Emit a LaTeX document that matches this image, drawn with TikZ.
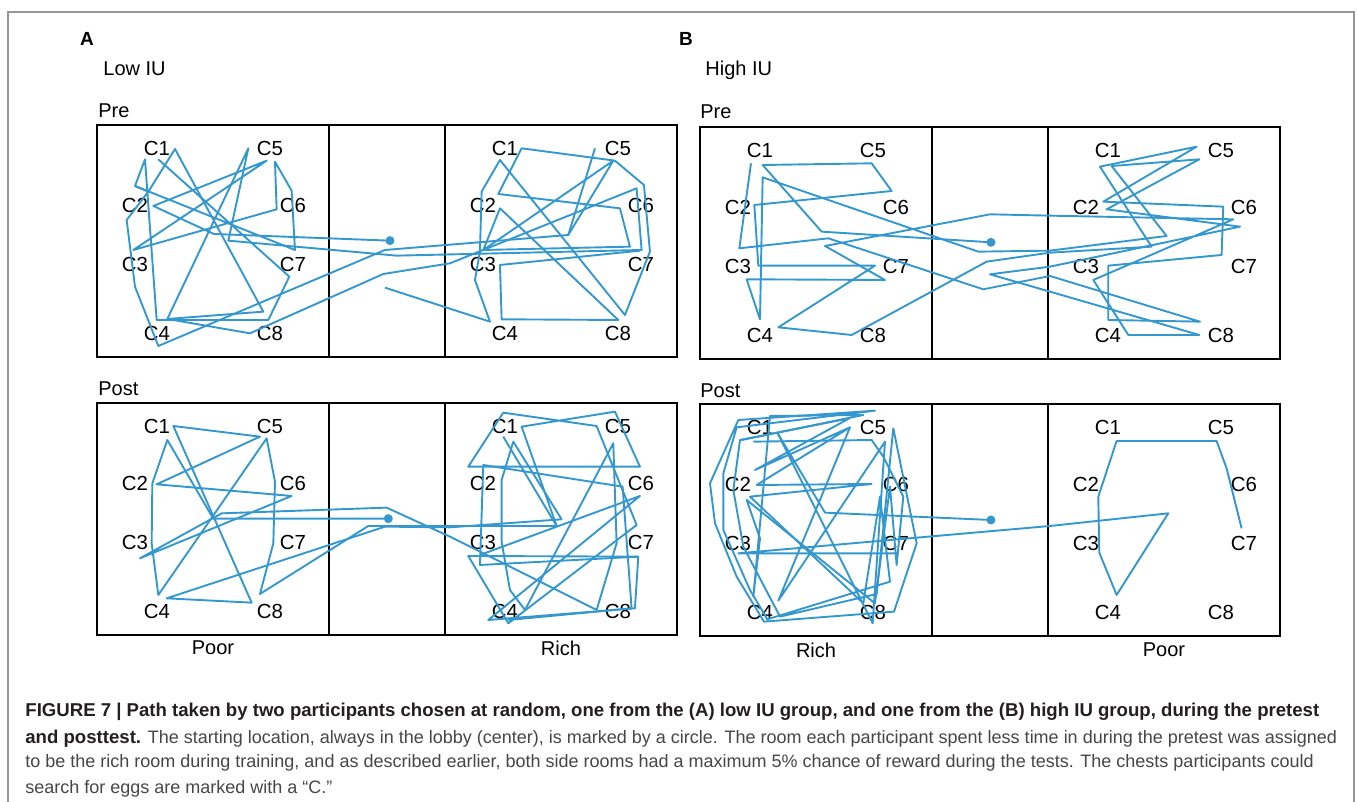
\documentclass[tikz,border=0pt]{standalone}
\usepackage{fontspec}
\setmainfont{Liberation Sans}
\usepackage{tikz}
\usetikzlibrary{positioning}

\definecolor{pathblue}{RGB}{52,152,207}
\definecolor{capgray}{RGB}{70,70,70}
\definecolor{capblack}{RGB}{35,31,32}
\definecolor{framegray}{RGB}{150,150,150}

\tikzset{room/.style={draw=black,line width=1pt},
  track/.style={draw=pathblue,line width=0.95pt,line join=round},
  start/.style={circle,fill=pathblue,inner sep=0pt,minimum size=4.5pt},
  chest/.style={font=\fontsize{10.2}{12}\selectfont,inner sep=0pt},
  grp/.style={font=\fontsize{10}{12}\selectfont,inner sep=0pt},
  panel/.style={font=\fontsize{9.5}{11}\selectfont\bfseries,inner sep=0pt},
  capb/.style={font=\fontsize{9.3}{11}\selectfont\bfseries,text=capblack,inner sep=0pt},
  capr/.style={font=\fontsize{9}{11}\selectfont,text=capgray,inner sep=0pt}}

% one test: three rooms with the chests of both side rooms
\newcommand{\testroom}[3]{%
  \draw[room] (#2,#3) rectangle ++(580,232);
  \draw[room] (#2+232,#3) -- ++(0,232);
  \draw[room] (#2+348,#3) -- ++(0,232);
  \foreach \c/\dx/\dy in {1/60/23,5/173/23,2/38/80,6/196/80,3/38/139,7/196/139,4/60/208,8/173/208}{
    \node[chest] (#1L\c) at (#2+\dx,#3+\dy) {C\c};
    \node[chest] (#1R\c) at (#2+348+\dx,#3+\dy) {C\c};
  }
}

\begin{document}
\begin{tikzpicture}[x=0.5pt,y=-0.5pt]
\useasboundingbox (0,0) rectangle (1357,802);
\draw[framegray,line width=0.6pt] (8,802) -- (8,12) -- (1354,12) -- (1354,802);

% panel A
\node[panel] (labA) at (87,39) {A};
\node[grp,anchor=base west] (lowIU) at (103,76) {Low IU};
\node[grp,anchor=base west] (preA) at (98,118) {Pre};
\node[grp,anchor=base west] (postA) at (98,396) {Post};
\testroom{preA}{97}{125}
\testroom{postA}{97}{403}
\node[grp] (poorA) at (213,648) {Poor};
\node[grp] (richA) at (561,648) {Rich};

% panel B
\node[panel] (labB) at (686,39) {B};
\node[grp,anchor=base west] (highIU) at (705,76) {High IU};
\node[grp,anchor=base west] (preB) at (700,119) {Pre};
\node[grp,anchor=base west] (postB) at (700,398) {Post};
\testroom{preB}{700}{127}
\testroom{postB}{700}{404}
\node[grp] (richB) at (816,650) {Rich};
\node[grp] (poorB) at (1164,650) {Poor};

% paths, low IU pretest
\begin{scope}[shift={(90,120)},scale=0.3333]
\draw[track] (900,362) -- (372,342) -- (190,258) -- (530,122) -- (130,390) -- (560,268) -- (555,125) -- (605,212) -- (615,390) -- (135,198) -- (165,118) -- (200,600) -- (535,600) -- (598,470) -- (205,118);
\draw[track] (135,198) -- (175,215) -- (255,87) -- (520,575) -- (232,597) -- (475,85) -- (415,362) -- (920,407) -- (1655,390) -- (1640,205) -- (1080,430) -- (880,462) -- (480,640) -- (232,597);
\draw[track] (175,215) -- (110,300) -- (135,500) -- (205,678) -- (885,390) -- (1435,345) -- (1515,85);
\draw[track] (1435,345) -- (1570,122) -- (1180,390) -- (1230,265) -- (1585,600) -- (1235,598) -- (1230,435) -- (1650,392);
\draw[track] (885,503) -- (1200,605) -- (1155,480) -- (1170,395) -- (1175,215) -- (1230,120) -- (1605,585) -- (1680,395) -- (1662,195) -- (1575,122) -- (1295,85) -- (1225,222) -- (1590,265) -- (1620,380) -- (1180,390);
\node[start] (preAstart) at (900,362) {};
\end{scope}

% paths, low IU posttest
\begin{scope}[shift={(90,390)},scale=0.3333]
\draw[track] (895,386) -- (370,386) -- (232,150) -- (187,280) -- (185,460) -- (205,615) -- (530,145) -- (555,275) -- (550,460) -- (510,612) -- (835,408) -- (1080,408) -- (1400,408) -- (1295,110) -- (1575,65) -- (1650,230) -- (1135,230) -- (1240,68) -- (1520,108) -- (1640,405) -- (1255,700) -- (1135,498) -- (1645,500) -- (1635,655) -- (1195,690) -- (1650,318) -- (1170,495);
\draw[track] (1080,440) -- (890,353) -- (395,370) -- (150,505) -- (605,318) -- (200,283) -- (510,140) -- (250,108) -- (485,638) -- (230,625) -- (885,410) -- (1080,412) -- (1415,388) -- (1270,155) -- (1235,270) -- (1235,455) -- (1260,600) -- (1305,660) -- (1570,160) -- (1580,460) -- (1520,660) -- (1080,440);
\draw[track] (1645,500) -- (1170,525) -- (1180,225) -- (1598,290) -- (1625,655) -- (1255,690);
\draw[track] (1240,140) -- (1400,408);
\node[start] (postAstart) at (895,386) {};
\end{scope}

% paths, high IU pretest
\begin{scope}[shift={(690,120)},scale=0.3333]
\draw[track] (903,367) -- (395,335) -- (218,135) -- (545,130) -- (605,213) -- (193,255) -- (205,437) -- (555,437) -- (265,622) -- (485,645) -- (890,425) -- (1080,398) -- (1385,380) -- (1230,140) -- (1520,80) -- (1240,245) -- (1600,260) -- (1595,405) -- (1255,437) -- (1255,600) -- (1530,605) -- (1080,468) -- (880,508) -- (415,355) -- (148,385) -- (183,130);
\draw[track] (1080,287) -- (900,283) -- (405,378) -- (585,480) -- (170,478) -- (210,598) -- (218,172) -- (865,395) -- (1080,392) -- (1430,348) -- (1265,138) -- (1528,118) -- (1250,268) -- (1650,320) -- (1080,440) -- (900,463) -- (1080,515) -- (1528,645) -- (1315,645) -- (1210,480) -- (1630,298) -- (1080,287);
\node[start] (preBstart) at (903,367) {};
\end{scope}

% paths, high IU posttest
\begin{scope}[shift={(690,390)},scale=0.3333]
\draw[track] (903,390) -- (405,368) -- (262,128) -- (548,700) -- (585,155) -- (265,632) -- (480,112) -- (195,240) -- (478,85) -- (150,150) -- (130,300) -- (160,470) -- (270,680) -- (560,612) -- (610,115) -- (680,460) -- (612,665) -- (222,695) -- (140,560) -- (75,400) -- (60,280) -- (145,90) -- (555,62) -- (140,112) -- (100,250) -- (100,420) -- (180,600) -- (232,688) -- (600,575) -- (570,320) -- (520,640) -- (180,320) -- (545,282) -- (200,285) -- (480,112);
\draw[track] (190,155) -- (545,150) -- (580,200) -- (640,320) -- (620,525) -- (600,290) -- (555,640) -- (170,330) -- (210,445) -- (190,620) -- (240,78) -- (520,75) -- (155,150);
\draw[track] (620,490) -- (145,490) -- (1080,408) -- (1435,370) -- (1280,615) -- (1228,488) -- (1225,320) -- (1280,153) -- (1580,153) -- (1610,235) -- (1655,415);
\node[start] (postBstart) at (903,390) {};
\end{scope}

% caption
\node[capb,anchor=base west] (cap1) at (25,717) {FIGURE 7 | Path taken by two participants chosen at random, one from the (A) low IU group, and one from the (B) high IU group, during the pretest};
\node[capr,anchor=base west] (cap2) at (25,743) {\textbf{\color{capblack}\fontsize{9.3}{11}\selectfont and posttest.} The starting location, always in the lobby (center), is marked by a circle. The room each participant spent less time in during the pretest was assigned};
\node[capr,anchor=base west] (cap3) at (25,768) {to be the rich room during training, and as described earlier, both side rooms had a maximum 5\% chance of reward during the tests. The chests participants could};
\node[capr,anchor=base west] (cap4) at (25,793) {search for eggs are marked with a “C.”};
\end{tikzpicture}
\end{document}
